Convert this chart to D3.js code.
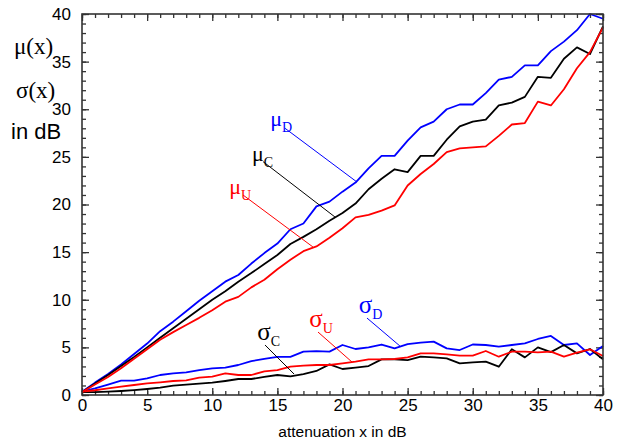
<!DOCTYPE html>
<html>
<head>
<meta charset="utf-8">
<script src="https://cdn.jsdelivr.net/npm/d3@7"></script>
<style>
  body { margin: 0; background: #fff; }
  .tick text { font-family: "Liberation Sans", Arial, sans-serif; font-size: 17px; fill: #000; }
</style>
</head>
<body>
<svg id="chart" width="621" height="444"></svg>
<script>
// attenuation x in dB
var ATTEN = [0,1,2,3,4,5,6,7,8,9,10,11,12,13,14,15,16,17,18,19,20,
  21,22,23,24,25,26,27,28,29,30,31,32,33,34,35,36,37,38,39,40];

var MU_D = [0.35,1.3,2.2,3.2,4.3,5.4,6.7,7.7,8.8,9.9,10.9,11.9,12.6,13.8,14.9,15.9,17.4,18.0,19.8,20.3,21.35,
  22.3,23.8,25.1,25.1,26.7,28.1,28.7,30.0,30.5,30.5,31.7,33.1,33.4,34.6,34.6,36.1,37.1,38.3,40.0,39.5];
var MU_C = [0.3,1.2,2.1,3.05,4.0,5.0,6.0,7.0,8.0,9.0,10.0,10.9,11.9,12.8,13.75,14.7,15.85,16.6,17.4,18.3,19.1,
  20.1,21.6,22.7,23.7,23.4,25.1,25.1,26.8,28.2,28.7,28.9,30.4,30.7,31.3,33.4,33.3,35.3,36.5,35.8,38.7];
var MU_U = [0.3,1.1,1.9,2.8,3.8,4.8,5.8,6.6,7.35,8.1,8.9,9.8,10.3,11.3,12.1,13.2,14.2,15.1,15.6,16.5,17.5,
  18.65,18.9,19.35,19.9,22.0,23.2,24.25,25.5,25.9,26.0,26.1,27.2,28.4,28.55,30.8,30.4,32.1,34.3,36.0,38.6];

var SIG_D = [0.35,0.7,1.1,1.5,1.5,1.75,2.1,2.27,2.38,2.6,2.8,2.87,3.15,3.55,3.8,4.0,4.0,4.55,4.6,4.55,5.25,
  4.83,5.0,5.3,4.9,5.35,5.5,5.6,4.9,4.72,5.3,5.25,5.07,5.25,5.42,5.88,6.2,5.25,5.42,4.2,5.14];
var SIG_C = [0.3,0.3,0.35,0.42,0.52,0.63,0.77,0.98,1.08,1.19,1.29,1.47,1.68,1.68,1.9,2.1,1.95,2.2,2.52,3.22,2.73,
  2.87,3.04,3.74,3.74,3.67,4.02,3.95,3.85,3.32,3.43,3.5,2.97,4.8,3.95,5.0,4.5,5.25,4.37,4.83,3.74];
var SIG_U = [0.35,0.5,0.7,0.87,1.05,1.22,1.33,1.47,1.54,1.82,1.92,2.27,2.1,2.1,2.48,2.62,2.97,3.08,3.15,3.15,3.32,
  3.5,3.74,3.74,3.78,3.95,4.37,4.37,4.27,4.13,4.13,4.62,4.02,4.55,4.55,4.48,4.55,4.02,4.45,4.8,4.1];

var X_TICKS = [0,5,10,15,20,25,30,35,40];
var Y_TICKS = [0,5,10,15,20,25,30,35,40];

var BLUE = '#0000ff', RED = '#ff0000', BLACK = '#000000';

// series in drawing order
var SERIES = [
  { values: SIG_D, color: BLUE },
  { values: SIG_C, color: BLACK },
  { values: SIG_U, color: RED },
  { values: MU_D, color: BLUE },
  { values: MU_C, color: BLACK },
  { values: MU_U, color: RED }
];

// curve labels with leader lines, in data units
var LABELS = [
  { sym: 'μ', sub: 'D', color: BLUE,  at: [14.45, 28.2], from: [15.59, 28.0], to: [21.11, 22.36], size: 22 },
  { sym: 'μ', sub: 'C', color: BLACK, at: [13.05, 24.6], from: [13.90, 24.5], to: [19.42, 18.69], size: 22 },
  { sym: 'μ', sub: 'U', color: RED,   at: [11.30, 21.1], from: [12.36, 21.0], to: [17.73, 15.54], size: 22 },
  { sym: 'σ', sub: 'C', color: BLACK, at: [13.45, 5.8],  from: [14.05, 5.25], to: [16.28, 2.2],  size: 25 },
  { sym: 'σ', sub: 'U', color: RED,   at: [17.45, 7.1],  from: [18.12, 6.61], to: [20.73, 3.46], size: 25 },
  { sym: 'σ', sub: 'D', color: BLUE,  at: [21.25, 8.6],  from: [21.88, 8.08], to: [24.41, 5.14], size: 25 }
];

var svg = d3.select('#chart');
var pLeft = 82, pRight = 603, pTop = 14, pBottom = 395;

var x = d3.scaleLinear().domain([0, 40]).range([pLeft, pRight]);
var y = d3.scaleLinear().domain([0, 40]).range([pBottom, pTop]);

var minor = d3.range(0, 41);

function drawAxis(axisFn, scale, transform, size, tickValues, labels){
  var g = svg.append('g').attr('transform', transform)
    .call(axisFn(scale).tickValues(tickValues).tickSize(size).tickSizeOuter(0)
      .tickFormat(labels ? d3.format('d') : ''));
  g.select('.domain').remove();
  g.selectAll('.tick line').attr('stroke', '#333').attr('stroke-width', 1.3);
  return g;
}

// ticks point inward on all four sides
drawAxis(d3.axisBottom, x, 'translate(0,' + pBottom + ')', -4, minor, false);
drawAxis(d3.axisBottom, x, 'translate(0,' + pBottom + ')', -7, X_TICKS, true)
  .selectAll('text').attr('y', 4).attr('dy', '0.71em');
drawAxis(d3.axisTop, x, 'translate(0,' + pTop + ')', -4, minor, false);
drawAxis(d3.axisTop, x, 'translate(0,' + pTop + ')', -7, X_TICKS, false);
drawAxis(d3.axisLeft, y, 'translate(' + pLeft + ',0)', -4, minor, false);
drawAxis(d3.axisLeft, y, 'translate(' + pLeft + ',0)', -7, Y_TICKS, true)
  .selectAll('text').attr('x', -11);
drawAxis(d3.axisRight, y, 'translate(' + pRight + ',0)', -4, minor, false);
drawAxis(d3.axisRight, y, 'translate(' + pRight + ',0)', -7, Y_TICKS, false);

var line = d3.line()
  .x(function(d, i){ return x(ATTEN[i]); })
  .y(function(d){ return y(d); });

svg.append('g').selectAll('path.curve').data(SERIES).enter().append('path')
  .attr('class', 'curve')
  .attr('d', function(d){ return line(d.values); })
  .attr('fill', 'none')
  .attr('stroke', function(d){ return d.color; })
  .attr('stroke-width', 1.8)
  .attr('stroke-linejoin', 'round');

// frame
svg.append('rect')
  .attr('x', pLeft).attr('y', pTop)
  .attr('width', pRight - pLeft).attr('height', pBottom - pTop)
  .attr('fill', 'none').attr('stroke', '#333').attr('stroke-width', 1.6);

// leader lines + labels
var serif = '"Liberation Serif", "Times New Roman", serif';
var sans = '"Liberation Sans", Arial, sans-serif';

var lab = svg.append('g').selectAll('g').data(LABELS).enter().append('g');
lab.append('line')
  .attr('x1', function(d){ return x(d.from[0]); })
  .attr('y1', function(d){ return y(d.from[1]); })
  .attr('x2', function(d){ return x(d.to[0]); })
  .attr('y2', function(d){ return y(d.to[1]); })
  .attr('stroke', function(d){ return d.color; })
  .attr('stroke-width', 1);
var t = lab.append('text')
  .attr('x', function(d){ return x(d.at[0]); })
  .attr('y', function(d){ return y(d.at[1]); })
  .attr('fill', function(d){ return d.color; })
  .style('font-family', serif);
t.append('tspan').attr('font-size', function(d){ return d.size; }).text(function(d){ return d.sym; });
t.append('tspan').attr('font-size', 14).attr('dy', 6).text(function(d){ return d.sub; });

// y axis title
svg.append('text').attr('x', 14).attr('y', 54).style('font-family', serif).style('font-size', '23px').text('μ(x)');
svg.append('text').attr('x', 16).attr('y', 98).style('font-family', serif).style('font-size', '23px').text('σ(x)');
svg.append('text').attr('x', 11).attr('y', 139).style('font-family', sans).style('font-size', '22px').text('in dB');

// x axis title
svg.append('text')
  .attr('x', (pLeft + pRight) / 2).attr('y', 437)
  .attr('text-anchor', 'middle')
  .style('font-family', sans).style('font-size', '15.5px')
  .text('attenuation x in dB');
</script>
</body>
</html>
